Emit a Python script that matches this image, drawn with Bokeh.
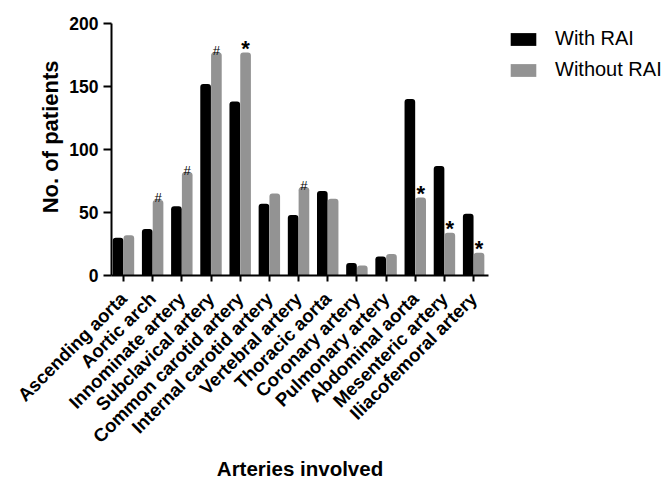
import numpy as np
from bokeh.plotting import figure
from bokeh.models import Range1d, FixedTicker, Legend, LegendItem, ColumnDataSource, Title
from bokeh.core.properties import value
from bokeh.embed import file_html
from bokeh.resources import INLINE

arteries = ["Ascending aorta", "Aortic arch", "Innominate artery", "Subclavical artery",
            "Common carotid artery", "Internal carotid artery", "Vertebral artery",
            "Thoracic aorta", "Coronary artery", "Pulmonary artery", "Abdominal aorta",
            "Mesenteric artery", "Iliacofemoral artery"]
with_rai = [30, 37, 55, 152, 138, 57, 48, 67, 10, 15, 140, 87, 49]
without_rai = [32, 60, 82, 177, 177, 65, 70, 61, 8, 17, 62, 34, 18]
marks = ["", "#", "#", "#", "*", "", "#", "", "", "", "*", "*", "*"]
y_ticks = [0, 50, 100, 150, 200]

FONT = "Liberation Sans"
GRAY = "#939393"

idx = np.arange(len(arteries))
off = 0.185
bw = 0.365

src = ColumnDataSource(dict(
    xw=idx - off, xo=idx + off, w=with_rai, o=without_rai,
))

p = figure(frame_width=377, frame_height=252, output_backend="svg", toolbar_location=None,
           x_range=Range1d(-0.41, 12.51), y_range=Range1d(0, 200),
           min_border_left=111, min_border_top=23, min_border_right=170,
           min_border_bottom=204)
p.outline_line_color = None
p.xgrid.visible = False
p.ygrid.visible = False

r1 = p.vbar(x="xw", top="w", width=bw, source=src, fill_color="black",
            line_color=None, border_radius=(3, 3, 0, 0))
r2 = p.vbar(x="xo", top="o", width=bw, source=src, fill_color=GRAY,
            line_color=None, border_radius=(3, 3, 0, 0))

hx = [i + off for i, m in enumerate(marks) if m == "#"]
hy = [without_rai[i] for i, m in enumerate(marks) if m == "#"]
sx = [i + off for i, m in enumerate(marks) if m == "*"]
sy = [without_rai[i] for i, m in enumerate(marks) if m == "*"]
p.text(x=hx, y=hy, text=["#"] * len(hx), text_font=value(FONT),
       text_font_size="13px", text_align="center", text_baseline="alphabetic",
       y_offset=-2, text_color="black")
p.text(x=sx, y=sy, text=["*"] * len(sx), text_font=value(FONT),
       text_font_size="22px", text_align="center", text_baseline="alphabetic",
       y_offset=-4, text_color="black", text_font_style="bold")

# axes
xa = p.xaxis[0]
xa.ticker = FixedTicker(ticks=list(idx))
xa.major_label_overrides = {int(i): name for i, name in zip(idx, arteries)}
xa.major_label_orientation = np.pi / 4
xa.minor_tick_line_color = None
xa.major_tick_in = 0
xa.major_tick_out = 6
xa.major_tick_line_width = 2
xa.axis_line_width = 2
xa.major_label_text_font = FONT
xa.major_label_text_font_style = "bold"
xa.major_label_text_font_size = "18.5px"
xa.major_label_text_color = "black"
xa.major_label_standoff = 14
xa.axis_label = "Arteries involved"
xa.axis_label_text_font = FONT
xa.axis_label_text_font_style = "bold"
xa.axis_label_text_font_size = "20.5px"
xa.axis_label_text_color = "black"
xa.axis_label_standoff = 0

ya = p.yaxis[0]
ya.ticker = FixedTicker(ticks=y_ticks)
ya.minor_tick_line_color = None
ya.major_tick_in = 0
ya.major_tick_out = 8
ya.major_tick_line_width = 2
ya.axis_line_width = 2
ya.major_label_text_font = FONT
ya.major_label_text_font_style = "bold"
ya.major_label_text_font_size = "17.5px"
ya.major_label_text_color = "black"
ya.major_label_standoff = 5

ytitle = Title(text="No. of patients", align="right", offset=37,
               text_font=FONT, text_font_style="bold", text_font_size="22px",
               text_color="black", standoff=8)
p.add_layout(ytitle, "left")

legend = Legend(items=[LegendItem(label="With RAI", renderers=[r1]),
                       LegendItem(label="Without RAI", renderers=[r2])],
                location=(19, 194), border_line_color=None,
                background_fill_alpha=0, glyph_width=32, glyph_height=16,
                label_text_font=FONT, label_text_font_size="20px",
                label_text_color="black",
                label_standoff=16, spacing=8, padding=0, margin=0,
                label_height=20)
p.add_layout(legend, "right")

open("out.html", "w").write(file_html(p, INLINE))
